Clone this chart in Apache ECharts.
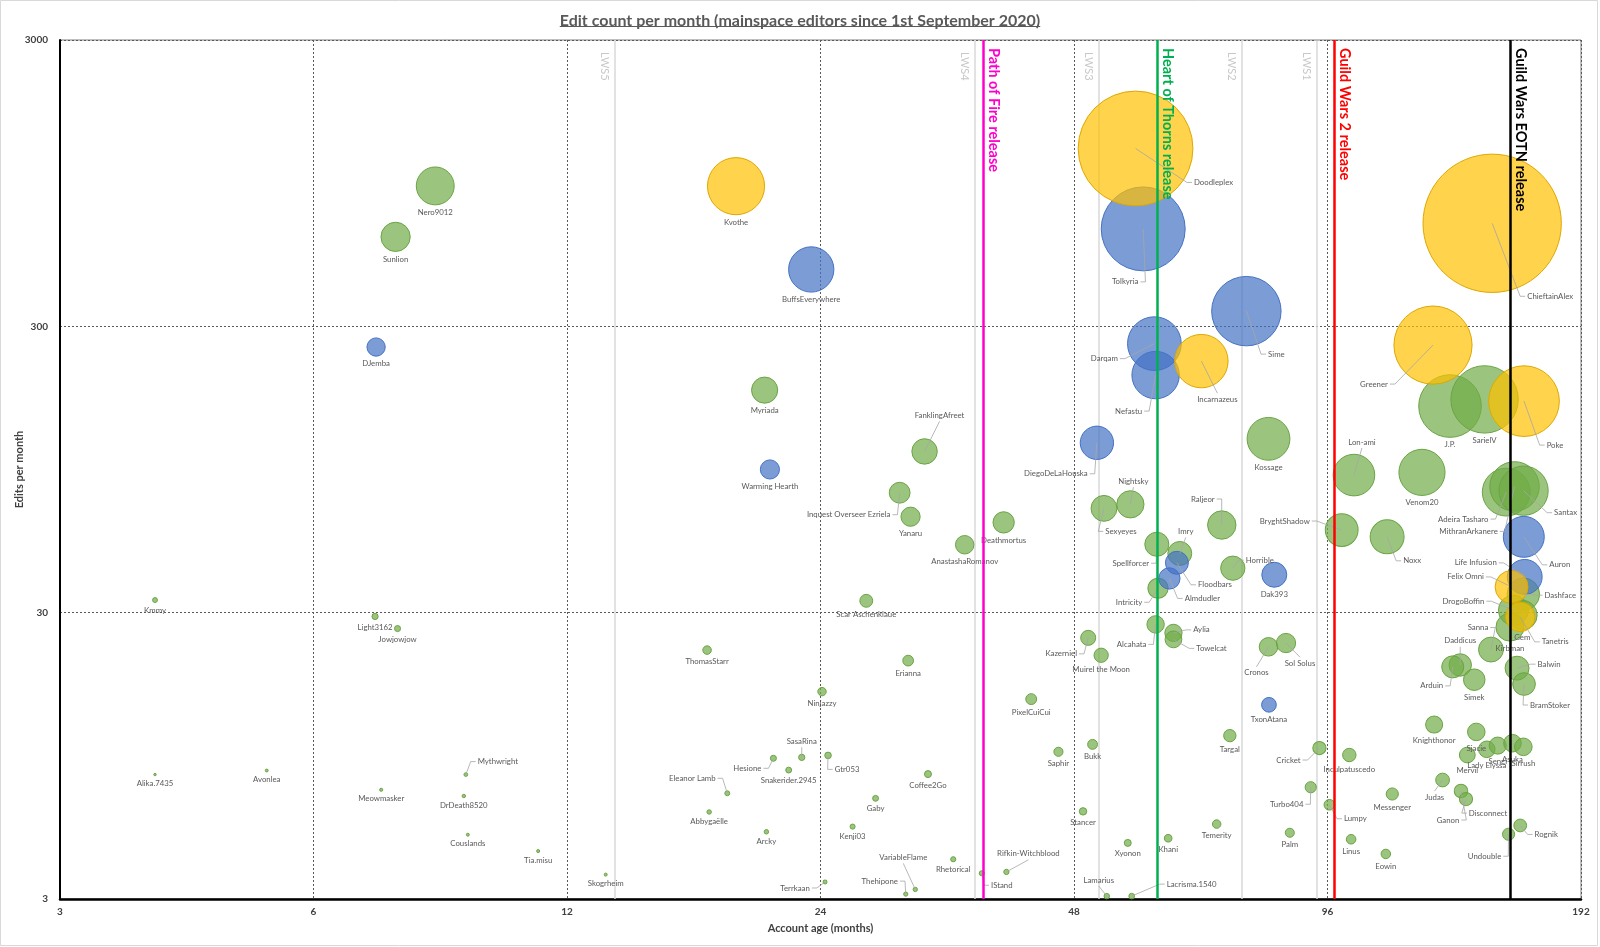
<!DOCTYPE html>
<html><head><meta charset="utf-8">
<script src="https://cdn.jsdelivr.net/npm/echarts@6/dist/echarts.min.js"></script>
<style>html,body{margin:0;padding:0;background:#fff}#c{width:1600px;height:947px}</style>
</head><body><div id="c"></div>
<script>
// ---------------- DATA ----------------
const xTicks = [3, 6, 12, 24, 48, 96, 192];
const yTicks = [3, 30, 300, 3000];
const titleText = 'Edit count per month (mainspace editors since 1st September 2020)';
const xName = 'Account age (months)';
const yName = 'Edits per month';

const greenNames = ['Nero9012','Sunlion','Kmmy','Light3162','Jowjowjow','Alika.7435','Avonlea','Meowmasker','Mythwright','DrDeath8520','Couslands','Tia.misu','Skogrheim','Myriada','FanklingAfreet','Inquest Overseer Ezriela','Yanaru','AnastashaRomanov','Scar Aschenklaue','ThomasStarr','Erianna','Ninjazzy','SasaRina','Hesione','Snakerider.2945','Gtr053','Eleanor Lamb','Coffee2Go','Abbygaëlle','Gaby','Arcky','Kenji03','VariableFlame','Thehipone','Rhetorical','Terrkaan','IStand','Deathmortus','Rifkin-Witchblood','PixelCuiCui','Saphir','Bukk','Stancer','Xyonon','Khani','Temerity','Palm','Lamarius','Lacrisma.1540','Targal','Kazerniel','Muirel the Moon','Cronos','Sol Solus','Alcahata','Aylia','Towelcat','Kossage','Nightsky','Sexyeyes','Raljeor','Spellforcer','Imry','Intricity','Horrible','BryghtShadow','Lon-ami','Venom20','Noxx','J.P.','SarielV','Adeira Tasharo','MithranArkanere','Santax','Dashface','DrogoBoffin','Gem','Sanna','Kirbman','Daddicus','Arduin','Simek','Balwin','BramStoker','Knighthonor','Sjacie','Lady Elyssa','Sengi','Asuka','Sirrush','Mervil','Judas','Ganon','Disconnect','Messenger','Rognik','Undouble','Linus','Eowin','Lumpy','Inculpatuscedo','Cricket','Turbo404'];
const greenAge = [8.37,7.51,3.89,7.10,7.55,3.89,5.28,7.22,9.10,9.05,9.15,11.09,13.34,20.6,31.9,29.8,30.7,35.6,27.2,17.6,30.5,24.1,22.8,21.1,22.0,24.5,18.6,32.2,17.7,27.9,20.7,26.2,31.1,30.3,34.5,24.3,37.3,39.6,39.9,42.7,46.0,50.5,49.2,55.6,62.1,70.9,86.6,52.5,56.2,73.5,49.9,51.7,81.7,85.7,60.0,63.0,63.0,81.7,56.0,52.1,71.9,60.2,64.1,60.4,74.1,99.8,103.2,124.3,113.0,134.2,147.5,156.5,160.1,164.1,164.0,159.6,163.5,150.1,158.1,138.0,135.2,143.4,161.2,164.3,128.5,144.2,148.4,152.9,159.2,164.0,140.7,131.5,138.3,140.2,114.6,162.6,157.5,102.4,112.6,96.5,101.9,93.9,91.7];
const greenEdits = [928,616,33.2,29.1,26.4,8.16,8.43,7.22,8.16,6.87,5.03,4.41,3.65,179.6,109.7,78.7,64.9,51.8,33.0,22.2,20.4,15.9,9.37,9.30,8.46,9.52,7.02,8.19,6.04,6.74,5.15,5.37,3.24,3.12,4.13,3.44,3.69,62.0,3.73,14.97,9.80,10.4,6.07,4.71,4.89,5.48,5.11,3.07,3.07,11.16,24.5,21.3,22.8,23.5,27.3,25.5,24.2,121.4,71.7,69.4,60.7,52.0,48.3,36.5,42.9,58.3,90.7,92.7,55.2,158,166.7,79.1,82.8,80.0,34.8,30.6,29.4,22.3,26.7,19.7,19.4,17.5,19.2,16.9,12.2,11.5,10.0,10.3,10.5,10.2,9.55,7.81,7.15,6.7,6.98,5.42,5.05,4.85,4.31,6.4,9.55,10.1,7.37];

const blueNames = ['DJemba','BuffsEverywhere','Warming Hearth','Tolkyria','Darqam','Nefastu','Sime','DiegoDeLaHouska','Floodbars','Almdudler','Dak393','TxonAtana','Auron','Life Infusion'];
const blueAge = [7.12,23.4,20.9,58.0,59.8,60.0,76.9,51.1,63.6,62.3,83.0,81.8,164.2,164.6];
const blueEdits = [254,474,94.9,656.8,261,202.7,339,117.6,44.8,39.5,40.7,14.3,55.2,40.0];

const yellowNames = ['Kvothe','Doodleplex','ChieftainAlex','Incarnazeus','Greener','Poke','Felix Omni','Tanetris'];
const yellowAge = [19.05,56.8,150.6,68.0,128.1,164.3,158.8,162.6];
const yellowEdits = [926,1254,687,226.8,258,164.4,36.9,29.0];

const lwsNames = ['LWS5','LWS4','LWS3','LWS2','LWS1'];
const lwsAge = [13.67,36.6,51.4,76.0,93.2];
const releaseNames = ['Path of Fire release','Heart of Thorns release','Guild Wars 2 release','Guild Wars EOTN release'];
const releaseAge = [37.45,60.3,97.9,158.4];

// ---------------- LAYOUT / STYLE ----------------
const releaseColors = ['#FF00CC','#00B050','#FF0000','#000000'];
const labelOffsets = {
 'Mythwright':[32,-13],'FanklingAfreet':[15,-36],'Inquest Overseer Ezriela':[-51,22],'SasaRina':[0,-16],
 'Hesione':[-26,10],'Gtr053':[19,14],'Eleanor Lamb':[-35,-15],'VariableFlame':[-12,-32],'Thehipone':[-26,-13],
 'Terrkaan':[-30,6],'IStand':[20,12],'Rifkin-Witchblood':[22,-18],'Kazerniel':[-27,16],'Lamarius':[-8,-16],
 'Lacrisma.1540':[60,-12],'Cronos':[-12,26],'Sol Solus':[14,20],'Alcahata':[-24,20],'Aylia':[28,-3],'Towelcat':[38,9],
 'Darqam':[-50,15],'Nefastu':[-27,36],'Incarnazeus':[16,38],'Sime':[30,43],'Tolkyria':[-18,53],'Doodleplex':[78,34],
 'ChieftainAlex':[58,73],'DiegoDeLaHouska':[-41,31],'Nightsky':[3,-23],'Sexyeyes':[17,23],'Raljeor':[-19,-26],
 'Spellforcer':[-26,19],'Imry':[6,-22],'Floodbars':[38,22],'Almdudler':[33,20],'Intricity':[-29,14],'Horrible':[27,-8],
 'BryghtShadow':[-57,-9],'Lon-ami':[8,-33],'Noxx':[25,24],'Greener':[-59,39],'Poke':[31,44],'Adeira Tasharo':[-43,27],
 'MithranArkanere':[-46,45],'Santax':[42,22],'Auron':[36,28],'Life Infusion':[-49,-14],'Felix Omni':[-46,-10],
 'Dashface':[37,1],'DrogoBoffin':[-50,-9],'Tanetris':[35,25],'Sanna':[-13,-22],'Daddicus':[0,-24],'Arduin':[-21,19],
 'Balwin':[32,-4],'BramStoker':[26,21],'Judas':[-8,17],'Ganon':[-13,29],'Disconnect':[22,14],'Rognik':[26,9],
 'Undouble':[-24,22],'Lumpy':[26,14],'Cricket':[-31,12],'Turbo404':[-24,17]
};
const FONT = 'Lato, "Liberation Sans", sans-serif';
const LABEL_SIZE = 7.8;
const BUBBLE_K = 0.43;
const TITLE_SIZE = 16;
const tx = a => Math.log2(a / xTicks[0]);
const ty = e => Math.log10(e / yTicks[0]);
const xMax = tx(xTicks[xTicks.length - 1]);
const yMax = ty(yTicks[yTicks.length - 1]);

function points(names, ages, edits) {
  return names.map((n, i) => {
    const d = { name: n, value: [tx(ages[i]), ty(edits[i]), ages[i], edits[i]] };
    if (labelOffsets[n]) d.label = { show: false };
    return d;
  });
}
function bubbleSeries(name, names, ages, edits, fill, border) {
  return {
    type: 'scatter', name: name, z: 2,
    data: points(names, ages, edits),
    symbolSize: v => BUBBLE_K * Math.sqrt(v[2] * v[3]),
    itemStyle: { color: fill, borderColor: border, borderWidth: 1, opacity: 1 },
    label: { show: true, position: 'bottom', distance: 3, formatter: '{b}', fontSize: LABEL_SIZE, fontFamily: FONT, color: '#595959' },
    emphasis: { disabled: true }
  };
}
const leaderItems = [];
[[greenNames, greenAge, greenEdits], [blueNames, blueAge, blueEdits], [yellowNames, yellowAge, yellowEdits]].forEach(g => {
  g[0].forEach((nm, i) => { if (labelOffsets[nm]) leaderItems.push({ name: nm, value: [tx(g[1][i]), ty(g[2][i])] }); });
});
const mctx = document.createElement('canvas').getContext('2d');

const chart = echarts.init(document.getElementById('c'));
mctx.font = 'bold ' + TITLE_SIZE + 'px Lato';
const titleW = mctx.measureText(titleText).width;
mctx.font = LABEL_SIZE + 'px Lato';

const option = {
  animation: false,
  backgroundColor: '#fff',
  title: { text: titleText, left: 'center', top: 8, textStyle: { fontSize: TITLE_SIZE, fontWeight: 'bold', color: '#595959', fontFamily: FONT } },
  graphic: [
    { type: 'line', shape: { x1: 800 - titleW / 2, y1: 26.5, x2: 800 + titleW / 2, y2: 26.5 }, style: { stroke: '#595959', lineWidth: 1 } },
    { type: 'rect', shape: { x: 0.5, y: 0.5, width: 1597, height: 945 }, style: { fill: null, stroke: '#D9D9D9', lineWidth: 1 }, z: -1 }
  ],
  grid: { left: 60, right: 19, top: 40, bottom: 48, outerBoundsMode: 'none', containLabel: false, show: true, borderColor: '#7F7F7F', borderWidth: 1, backgroundColor: 'transparent' },
  xAxis: {
    type: 'value', min: 0, max: xMax, interval: 1,
    axisLine: { show: true, onZero: false, lineStyle: { color: '#000', width: 2.5 } },
    axisTick: { show: false },
    axisLabel: { formatter: v => String(xTicks[Math.round(v)]), color: '#404040', fontWeight: 'bold', fontSize: 10, fontFamily: FONT, margin: 8 },
    splitLine: { show: true, lineStyle: { color: '#595959', width: 1, type: [2, 2] } },
    name: xName, nameLocation: 'middle', nameGap: 24, nameMoveOverlap: false,
    nameTextStyle: { color: '#404040', fontWeight: 'bold', fontSize: 11, fontFamily: FONT }
  },
  yAxis: {
    type: 'value', min: 0, max: yMax, interval: 1,
    axisLine: { show: true, onZero: false, lineStyle: { color: '#000', width: 2 } },
    axisTick: { show: false },
    axisLabel: { formatter: v => String(yTicks[Math.round(v)]), color: '#404040', fontWeight: 'bold', fontSize: 10, fontFamily: FONT, margin: 12 },
    splitLine: { show: true, lineStyle: { color: '#595959', width: 1, type: [2, 2] } },
    name: yName, nameLocation: 'middle', nameGap: 35, nameMoveOverlap: false,
    nameTextStyle: { color: '#404040', fontWeight: 'bold', fontSize: 11, fontFamily: FONT }
  },
  series: [
    {
      type: 'line', data: [], silent: true,
      markLine: {
        silent: true, z: 1, symbol: ['none', 'none'], animation: false,
        lineStyle: { color: '#D9D9D9', width: 1.5, type: 'solid' },
        label: { show: true, position: 'insideStartBottom', distance: [12, 5], formatter: '{b}', color: '#C8C8C8', fontSize: 11, fontFamily: FONT },
        emphasis: { disabled: true },
        data: lwsNames.map((n, i) => [{ name: n, coord: [tx(lwsAge[i]), yMax] }, { coord: [tx(lwsAge[i]), 0] }])
      }
    },
    bubbleSeries('Editors', greenNames, greenAge, greenEdits, 'rgba(112,173,71,0.7)', '#6AA444'),
    bubbleSeries('Administrators', blueNames, blueAge, blueEdits, 'rgba(68,114,196,0.7)', '#4472C4'),
    bubbleSeries('Bureaucrats', yellowNames, yellowAge, yellowEdits, 'rgba(255,192,0,0.7)', '#DDA800'),
    {
      type: 'custom', z: 4, data: leaderItems, encode: { x: 0, y: 1 }, silent: true,
      renderItem: function (params, api) {
        const item = leaderItems[params.dataIndex];
        const p = api.coord([api.value(0), api.value(1)]);
        const off = labelOffsets[item.name];
        const lx = p[0] + off[0], ly = p[1] + off[1];
        const w = mctx.measureText(item.name).width, h = LABEL_SIZE + 2;
        let a, b;
        if (p[0] >= lx - w / 2 && p[0] <= lx + w / 2) {
          const s = p[1] < ly ? -1 : 1;
          a = [lx, ly + s * (h / 2 + 1)]; b = a;
        } else {
          const s = p[0] < lx ? -1 : 1;
          a = [lx + s * (w / 2 + 2), ly]; b = [a[0] + s * 5, ly];
        }
        return { type: 'group', children: [
          { type: 'polyline', shape: { points: [a, b, p] }, style: { stroke: '#A6A6A6', lineWidth: 0.8, fill: null } },
          { type: 'text', x: lx, y: ly, style: { text: item.name, fontSize: LABEL_SIZE, fontFamily: FONT, fill: '#595959', align: 'center', verticalAlign: 'middle' } }
        ] };
      }
    },
    {
      type: 'line', data: [], silent: true,
      markLine: {
        silent: true, z: 6, symbol: ['none', 'none'], animation: false,
        label: { show: true, position: 'insideStartTop', distance: [8, 3], formatter: '{b}', fontSize: 14.5, fontWeight: 'bold', fontFamily: FONT },
        emphasis: { disabled: true },
        data: releaseNames.map((n, i) => [{ name: n, coord: [tx(releaseAge[i]), yMax],
          lineStyle: { color: releaseColors[i], width: 2.5, type: 'solid' }, label: { color: releaseColors[i] } },
          { coord: [tx(releaseAge[i]), 0] }])
      }
    }
  ]
};
chart.setOption(option);
</script></body></html>
